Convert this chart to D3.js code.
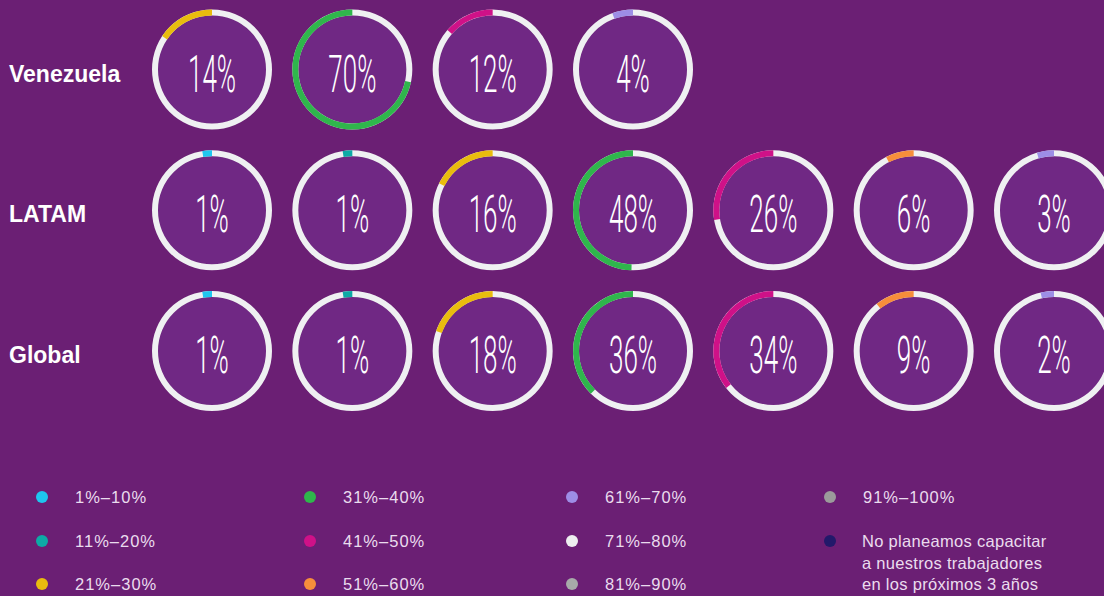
<!DOCTYPE html>
<html>
<head>
<meta charset="utf-8">
<script src="https://cdn.jsdelivr.net/npm/d3@7"></script>
<style>
  html, body { margin: 0; padding: 0; background: #6b1f74; }
  svg { display: block; }
</style>
</head>
<body>
<svg width="1104" height="596"></svg>
<script>
// legend ranges and their colours
const ranges = ["1%–10%", "11%–20%", "21%–30%", "31%–40%", "41%–50%", "51%–60%",
  "61%–70%", "71%–80%", "81%–90%", "91%–100%",
  "No planeamos capacitar a nuestros trabajadores en los próximos 3 años"];
const rangeColors = ["#1ec6ef", "#0daaa6", "#e9bc0e", "#2fb64c", "#cf1188", "#f68e3b",
  "#9d8ee6", "#eeeef0", "#a7aaa9", "#9b9b9b", "#22196a"];

const rowLabels = ["Venezuela", "LATAM", "Global"];

const venezuelaRanges = ["21%–30%", "31%–40%", "41%–50%", "61%–70%"];
const venezuelaValues = [14, 70, 12, 4];

const latamRanges = ["1%–10%", "11%–20%", "21%–30%", "31%–40%", "41%–50%", "51%–60%", "61%–70%"];
const latamValues = [1, 1, 16, 48, 26, 6, 3];

const globalRanges = ["1%–10%", "11%–20%", "21%–30%", "31%–40%", "41%–50%", "51%–60%", "61%–70%"];
const globalValues = [1, 1, 18, 36, 34, 9, 2];

const svg = d3.select("svg");

const color = d3.scaleOrdinal().domain(ranges).range(rangeColors);

const x = d3.scalePoint().domain(d3.range(7)).range([212, 1054]);
const y = d3.scalePoint().domain(rowLabels).range([69.5, 351]);
// share -> angle, counter-clockwise from 12 o'clock
const angle = d3.scaleLinear().domain([0, 100]).range([0, -2 * Math.PI]);

const rOuter = 60, rInner = 54;

const rows = [
  { label: "Venezuela", ranges: venezuelaRanges, values: venezuelaValues },
  { label: "LATAM", ranges: latamRanges, values: latamValues },
  { label: "Global", ranges: globalRanges, values: globalValues }
];

const data = [];
rows.forEach(r => {
  r.values.forEach((v, i) => {
    data.push({ row: r.label, col: i, value: v, range: r.ranges[i] });
  });
});

// row labels
svg.selectAll("text.rowlabel")
  .data(rowLabels)
  .join("text")
  .attr("class", "rowlabel")
  .attr("x", 9)
  .attr("y", d => y(d) + 12)
  .attr("fill", "#ffffff")
  .style("font-family", "'Liberation Sans', Arial, sans-serif")
  .style("font-weight", "bold")
  .style("font-size", "23px")
  .text(d => d);

const arcBg = d3.arc().innerRadius(rInner).outerRadius(rOuter).startAngle(0).endAngle(2 * Math.PI);
const arcVal = d3.arc().innerRadius(rInner).outerRadius(rOuter).startAngle(0);

const donuts = svg.selectAll("g.donut")
  .data(data)
  .join("g")
  .attr("class", "donut")
  .attr("transform", d => `translate(${x(d.col)},${y(d.row)})`);

donuts.append("circle")
  .attr("r", rInner)
  .attr("fill", "#702884");

donuts.append("path")
  .attr("d", arcBg())
  .attr("fill", "#eff0f2");

// small extra sweep so the 1% slices stay visible, like in the original
donuts.append("path")
  .attr("d", d => arcVal({ endAngle: angle(d.value) - 0.1 }))
  .attr("fill", d => color(d.range));

donuts.append("text")
  .attr("transform", "translate(0,22) scale(0.5,1)")
  .attr("text-anchor", "middle")
  .attr("fill", "#ffffff")
  .style("font-family", "Roboto, sans-serif")
  .style("font-weight", "300")
  .style("font-size", "52px")
  .text(d => d.value + "%");

// legend
const legendX = [42, 310, 572, 830];
const legendY = [497, 541, 584];
const legend = svg.append("g");

ranges.forEach((key, i) => {
  const col = Math.floor(i / 3), row = i % 3;
  const g = legend.append("g")
    .attr("transform", `translate(${legendX[col]},${legendY[row]})`);
  g.append("circle")
    .attr("r", 6)
    .attr("fill", color(key));
  const long = key.length > 20;
  const lines = long
    ? ["No planeamos capacitar", "a nuestros trabajadores", "en los próximos 3 años"]
    : [key];
  const t = g.append("text")
    .attr("fill", "#eadcee")
    .style("font-family", "'Liberation Sans', Arial, sans-serif")
    .style("font-size", "16.5px")
    .style("letter-spacing", long ? "0.3px" : "1px");
  lines.forEach((ln, j) => {
    t.append("tspan")
      .attr("x", long ? 32 : 33)
      .attr("y", 6 + j * 21.5)
      .text(ln);
  });
});
</script>
</body>
</html>
